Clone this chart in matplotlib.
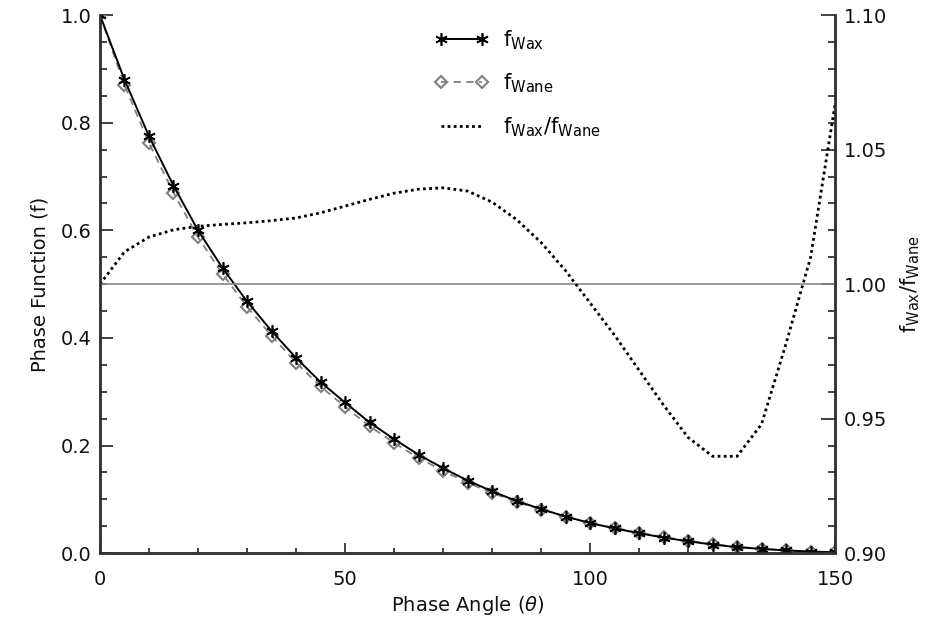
import matplotlib

matplotlib.use("Agg")
import matplotlib.pyplot as plt
from matplotlib.ticker import MultipleLocator

# phase angle grid (deg)
theta = [0, 5, 10, 15, 20, 25, 30, 35, 40, 45, 50, 55, 60, 65, 70, 75,
         80, 85, 90, 95, 100, 105, 110, 115, 120, 125, 130, 135, 140, 145, 150]

f_wax = [1.000, 0.880, 0.775, 0.683, 0.600, 0.530, 0.468, 0.413, 0.363, 0.318,
         0.280, 0.243, 0.212, 0.183, 0.158, 0.135, 0.115, 0.097, 0.082, 0.068,
         0.056, 0.046, 0.037, 0.029, 0.022, 0.016, 0.011, 0.008, 0.005, 0.003, 0.0016]

f_wane = [1.000, 0.870, 0.762, 0.670, 0.587, 0.519, 0.458, 0.404, 0.354, 0.310,
          0.272, 0.236, 0.205, 0.177, 0.153, 0.131, 0.112, 0.095, 0.081, 0.068,
          0.056, 0.047, 0.038, 0.030, 0.023, 0.017, 0.012, 0.008, 0.005, 0.003, 0.0015]

ratio = [1.000, 1.012, 1.0175, 1.0202, 1.0215, 1.0222, 1.0228, 1.0236, 1.0246, 1.0265,
         1.0290, 1.0315, 1.0338, 1.0353, 1.0358, 1.0346, 1.0305, 1.0240, 1.0155, 1.0050,
         0.9930, 0.9810, 0.9680, 0.9550, 0.9430, 0.9360, 0.9360, 0.9480, 0.9780, 1.0100, 1.0670]

plt.rcParams["font.family"] = ["DejaVu Sans"]
plt.rcParams["mathtext.fontset"] = "dejavusans"

fig = plt.figure(figsize=(9.3, 6.3), dpi=100)
ax = fig.add_axes([0.1075, 0.122, 0.7905, 0.854])
ax2 = ax.twinx()

spine_col = "#333333"

(l_wax,) = ax.plot(theta, f_wax, color="black", lw=1.4, marker=(6, 2, 0),
                   ms=9, mew=1.2, label=r"$\mathregular{f_{Wax}}$", zorder=3)
(l_wane,) = ax.plot(theta, f_wane, color="#808080", lw=1.3, ls=(0, (4, 3)),
                    marker="D", ms=6.5, mfc="none", mec="#808080", mew=1.5,
                    label=r"$\mathregular{f_{Wane}}$", zorder=2)

ax2.axhline(1.0, color="#888888", lw=1.2)
(l_rat,) = ax2.plot(theta, ratio, color="black", lw=2.0, ls=(0, (1, 1.2)),
                    label=r"$\mathregular{f_{Wax}/f_{Wane}}$")

ax.set_xlim(0, 150)
ax.set_ylim(0, 1.0)
ax2.set_ylim(0.9, 1.1)

ax.xaxis.set_major_locator(MultipleLocator(50))
ax.xaxis.set_minor_locator(MultipleLocator(10))
ax.yaxis.set_major_locator(MultipleLocator(0.2))
ax.yaxis.set_minor_locator(MultipleLocator(0.05))
ax2.yaxis.set_major_locator(MultipleLocator(0.05))
ax2.yaxis.set_minor_locator(MultipleLocator(0.01))
ax.yaxis.set_major_formatter(plt.FormatStrFormatter("%.1f"))
ax2.yaxis.set_major_formatter(plt.FormatStrFormatter("%.2f"))

for a in (ax, ax2):
    a.spines["top"].set_visible(False)
    for s in a.spines.values():
        s.set_color(spine_col)
        s.set_linewidth(1.8)
    a.tick_params(which="both", direction="in", colors=spine_col, labelcolor="#111111",
                  labelsize=14, width=1.3)

ax.tick_params(axis="x", which="major", length=7, pad=12)
ax.tick_params(axis="x", which="minor", length=3.5)
ax.tick_params(axis="y", which="major", length=9, pad=6)
ax.tick_params(axis="y", which="minor", length=5)
ax2.tick_params(axis="y", which="major", length=10, pad=6)
ax2.tick_params(axis="y", which="minor", length=5)

ax.set_xlabel(r"Phase Angle ($\theta$)", fontsize=14, color="#111111", labelpad=4)
ax.set_ylabel("Phase Function (f)", fontsize=14, color="#111111", labelpad=8)
ax2.set_ylabel(r"$\mathregular{f_{Wax}/f_{Wane}}$", fontsize=15, color="#111111", labelpad=8)

ax2.legend(handles=[l_wax, l_wane, l_rat], loc="upper left",
           bbox_to_anchor=(0.447, 0.985), bbox_transform=fig.transFigure,
           frameon=False, fontsize=15, numpoints=2, handlelength=2.6,
           handletextpad=0.7, labelspacing=0.95)

fig.savefig("out.png", dpi=100)
